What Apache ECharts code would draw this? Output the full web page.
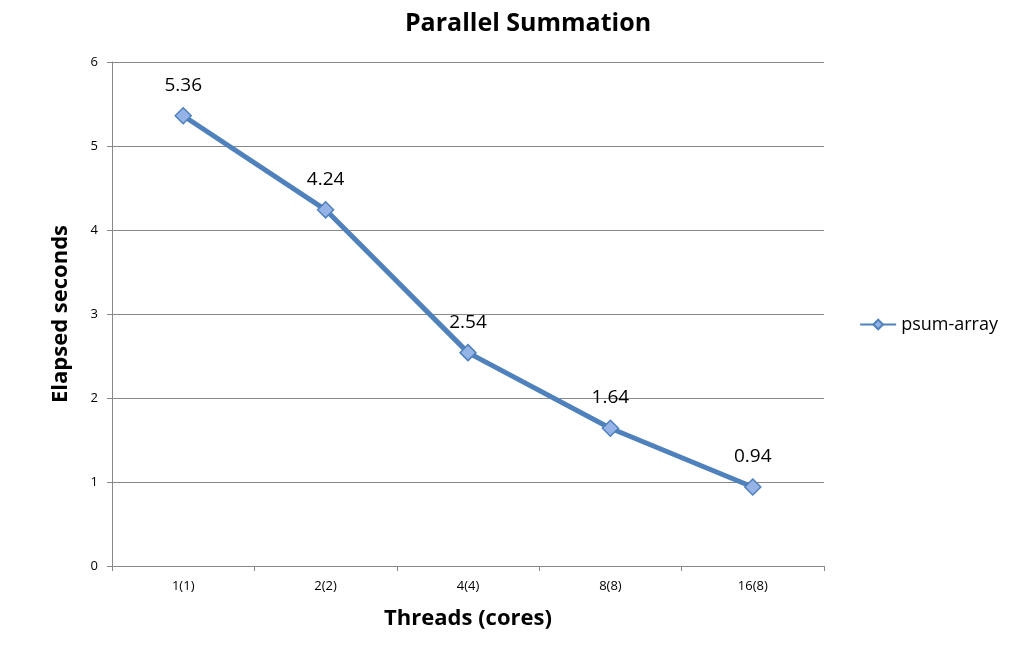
<!doctype html>
<html>
<head>
<meta charset="UTF-8">
<script src="https://cdn.jsdelivr.net/npm/echarts@6/dist/echarts.min.js"></script>
<style>html,body{margin:0;background:#fff}#main{width:1015px;height:649px}</style>
</head>
<body>
<div id="main"></div>
<script>
var categories = ['1(1)', '2(2)', '4(4)', '8(8)', '16(8)'];
var values = [5.36, 4.24, 2.54, 1.64, 0.94];
var seriesName = 'psum-array';

var myChart = echarts.init(document.getElementById('main'));
var font = '"Open Sans", "Liberation Sans", sans-serif';
var option = {
    animation: false,
    textStyle: { fontFamily: font },
    title: {
        text: 'Parallel Summation',
        left: 523, top: 6, textAlign: 'center',
        textStyle: { fontSize: 25, fontWeight: 'bold', color: '#000', fontFamily: font }
    },
    legend: {
        right: 12, top: 'middle', orient: 'vertical',
        itemWidth: 36, itemHeight: 12,
        textStyle: { fontSize: 18, color: '#000' },
        data: [seriesName]
    },
    grid: { left: 112, right: 191, top: 62, bottom: 83 },
    xAxis: {
        type: 'category',
        data: categories,
        name: 'Threads (cores)',
        nameLocation: 'middle', nameGap: 42,
        nameTextStyle: { fontSize: 22, fontWeight: 'bold', color: '#000' },
        axisLine: { lineStyle: { color: '#888' } },
        axisTick: { show: true, inside: false, length: 5, lineStyle: { color: '#888' } },
        axisLabel: { fontSize: 13, color: '#000', margin: 14 }
    },
    yAxis: {
        type: 'value', min: 0, max: 6, interval: 1,
        name: 'Elapsed seconds',
        nameLocation: 'middle', nameGap: 40,
        nameTextStyle: { fontSize: 22, fontWeight: 'bold', color: '#000' },
        axisLine: { show: true, lineStyle: { color: '#888' } },
        axisTick: { show: true, length: 5, lineStyle: { color: '#888' } },
        axisLabel: { fontSize: 13, color: '#000', margin: 14 },
        splitLine: { lineStyle: { color: '#888' } }
    },
    series: [{
        name: seriesName,
        type: 'line',
        data: values,
        symbol: 'diamond', symbolSize: 16,
        lineStyle: { color: '#4f81bd', width: 5 },
        itemStyle: { color: '#95b3e7', borderColor: '#4f81bd', borderWidth: 1.5 },
        label: { show: true, position: 'top', distance: 12, fontSize: 19, color: '#000' }
    }]
};
myChart.setOption(option);
</script>
</body>
</html>
